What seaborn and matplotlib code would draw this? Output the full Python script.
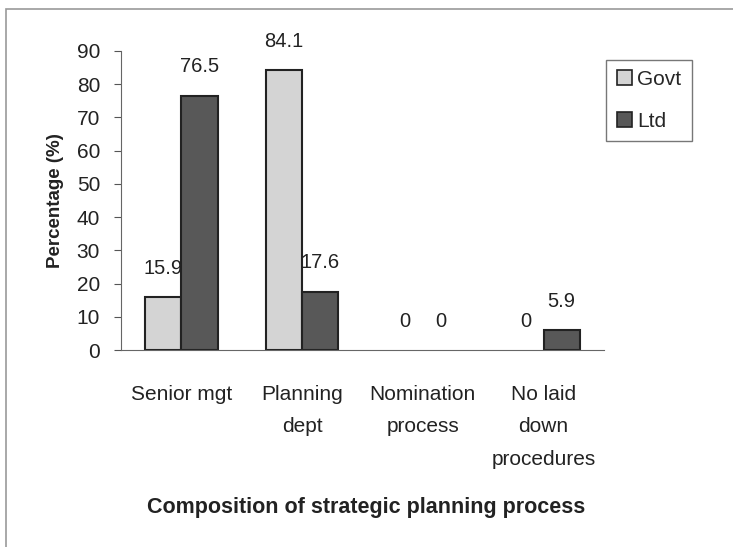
import matplotlib

matplotlib.use("Agg")
import matplotlib.pyplot as plt
import pandas as pd
import seaborn as sns
from matplotlib.patches import Patch, Rectangle

categories = ["Senior mgt", "Planning\ndept", "Nomination\nprocess", "No laid\ndown\nprocedures"]
groups = ["Govt", "Ltd"]
govt_values = [15.9, 84.1, 0, 0]
ltd_values = [76.5, 17.6, 0, 5.9]
y_ticks = [0, 10, 20, 30, 40, 50, 60, 70, 80, 90]

colors = {"Govt": "#d4d4d4", "Ltd": "#585858"}

df = pd.DataFrame({
    "category": categories * 2,
    "group": ["Govt"] * len(categories) + ["Ltd"] * len(categories),
    "value": govt_values + ltd_values,
})

sns.set_theme(style="white")
plt.rcParams["font.family"] = ["Liberation Sans", "DejaVu Sans"]

fig = plt.figure(figsize=(7.33, 5.47), dpi=100)
ax = fig.add_axes([0.165, 0.36, 0.659, 0.547])

sns.barplot(
    data=df, x="category", y="value", hue="group", hue_order=groups,
    order=categories, palette=colors, width=0.6, edgecolor="#222222",
    linewidth=1.5, legend=False, ax=ax,
)

for container in ax.containers:
    # zero-height bars show no outline in the original
    for bar, v in zip(container, container.datavalues):
        if v == 0:
            bar.set_edgecolor("none")
    ax.bar_label(container, labels=[f"{v:g}" for v in container.datavalues],
                 padding=14, fontsize=14.5, color="#222222")

ax.set_ylim(0, 90)
ax.set_yticks(y_ticks)
ax.set_xlim(-0.5, len(categories) - 0.5)
ax.set_xticks(range(len(categories)))
ax.set_xticklabels(categories, fontsize=15, linespacing=1.9, va="top", color="#222222")
ax.set_xticks([i - 0.5 for i in range(len(categories) + 1)], minor=True)
ax.tick_params(axis="x", which="major", length=0, pad=25)
ax.tick_params(axis="x", which="minor", length=5, width=0.8, color="#555555", direction="out")
ax.tick_params(axis="y", labelsize=15, labelcolor="#222222", length=5, width=0.8,
               color="#555555", direction="out", pad=10, left=True)
ax.set_xlabel("")
ax.set_ylabel("Percentage (%)", fontsize=13.5, fontweight="bold", labelpad=9, color="#222222")

sns.despine(ax=ax)
for side in ["left", "bottom"]:
    ax.spines[side].set_color("#666666")
    ax.spines[side].set_linewidth(0.8)

handles = [Patch(facecolor=colors[g], edgecolor="#222222", linewidth=1.2, label=g) for g in groups]
fig.legend(handles=handles, loc="upper left", bbox_to_anchor=(0.827, 0.891),
           frameon=True, fancybox=False, edgecolor="#555555", fontsize=15,
           handlelength=0.75, handleheight=0.75, handletextpad=0.25,
           labelspacing=1.1, borderpad=0.5, borderaxespad=0)

fig.text(0.5, 0.063, "Composition of strategic planning process", ha="center",
         fontsize=15.5, fontweight="bold", color="#222222")

fig.add_artist(Rectangle((0.008, -0.01), 1.2, 0.994, transform=fig.transFigure,
                         fill=False, edgecolor="#999999", linewidth=1.2))

fig.savefig("out.png", dpi=100)
plt.close(fig)
